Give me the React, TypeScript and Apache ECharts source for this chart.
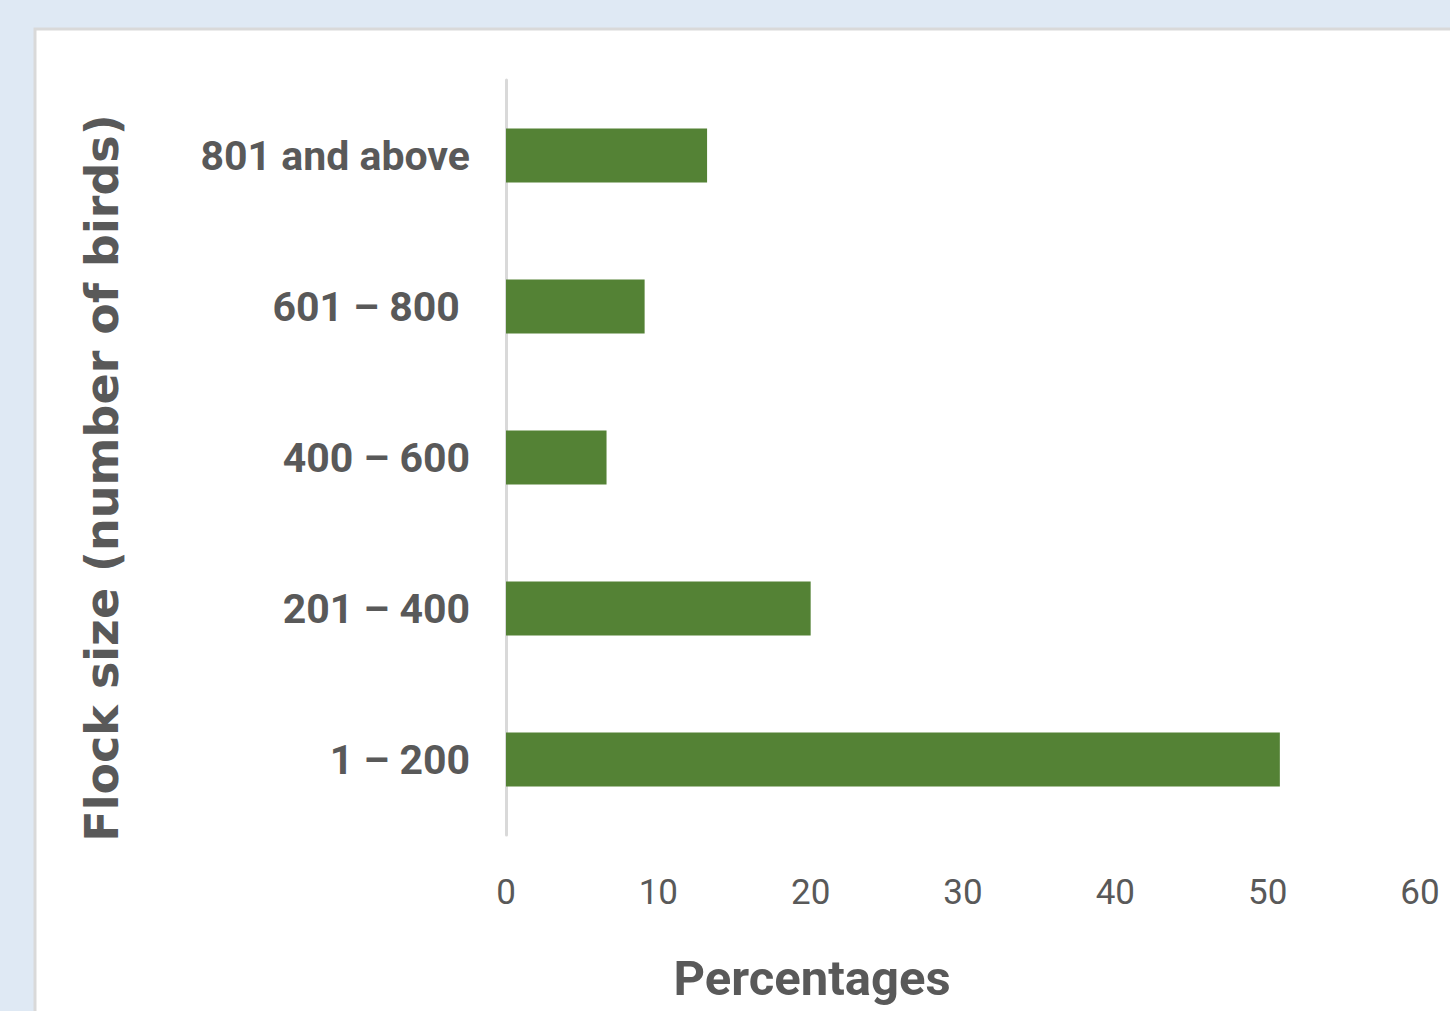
import React, { useEffect, useRef } from "react";
import * as echarts from "echarts";

// Flock size classes, bottom to top
const flockSizes = ["1 – 200", "201 – 400", "400 – 600", "601 – 800\u00a0", "801 and above"];
// Share of flocks in each class (%)
const percentages = [50.8, 20.0, 6.6, 9.1, 13.2];
const xTicks = [0, 10, 20, 30, 40, 50, 60];

const TEXT = "#595959";
const BAR = "#548235";
const SANS = 'Roboto, "Liberation Sans", sans-serif';

export default function App() {
  const ref = useRef<HTMLDivElement>(null);

  useEffect(() => {
    if (!ref.current) return;
    const chart = echarts.init(ref.current, null, { renderer: "svg" });
    chart.setOption({
      animation: false,
      backgroundColor: "#dfe9f4",
      graphic: [
        {
          type: "rect",
          z: -10,
          shape: { x: 35, y: 29, width: 1500, height: 1100 },
          style: { fill: "#ffffff", stroke: "#d9d9d9", lineWidth: 3 },
        },
        {
          type: "text",
          x: 812,
          y: 978,
          style: {
            text: "Percentages",
            font: `bold 49px ${SANS}`,
            fill: TEXT,
            align: "center",
            verticalAlign: "middle",
          },
        },
        {
          type: "text",
          x: 102,
          y: 478,
          rotation: Math.PI / 2,
          style: {
            text: "Flock size (number of birds)",
            font: 'bold 46px "DejaVu Sans", Verdana, sans-serif',
            fill: TEXT,
            align: "center",
            verticalAlign: "middle",
          },
        },
      ],
      grid: { left: 506, right: 30, top: 80, bottom: 176, containLabel: false },
      xAxis: {
        type: "value",
        min: 0,
        max: xTicks[xTicks.length - 1],
        interval: xTicks[1] - xTicks[0],
        axisLine: { show: false },
        axisTick: { show: false },
        splitLine: { show: false },
        axisLabel: {
          margin: 40,
          color: TEXT,
          fontFamily: SANS,
          fontSize: 35,
        },
      },
      yAxis: {
        type: "category",
        data: flockSizes,
        axisLine: { show: true, lineStyle: { color: "#d9d9d9", width: 3 } },
        axisTick: { show: false },
        axisLabel: {
          margin: 36,
          color: TEXT,
          fontFamily: SANS,
          fontWeight: "bold",
          fontSize: 41,
        },
      },
      series: [
        {
          type: "bar",
          data: percentages,
          barWidth: 54,
          itemStyle: { color: BAR },
        },
      ],
    });
    return () => chart.dispose();
  }, []);

  return (
    <div
      ref={ref}
      style={{ position: "fixed", left: 0, top: 0, width: 1450, height: 1011 }}
    />
  );
}
